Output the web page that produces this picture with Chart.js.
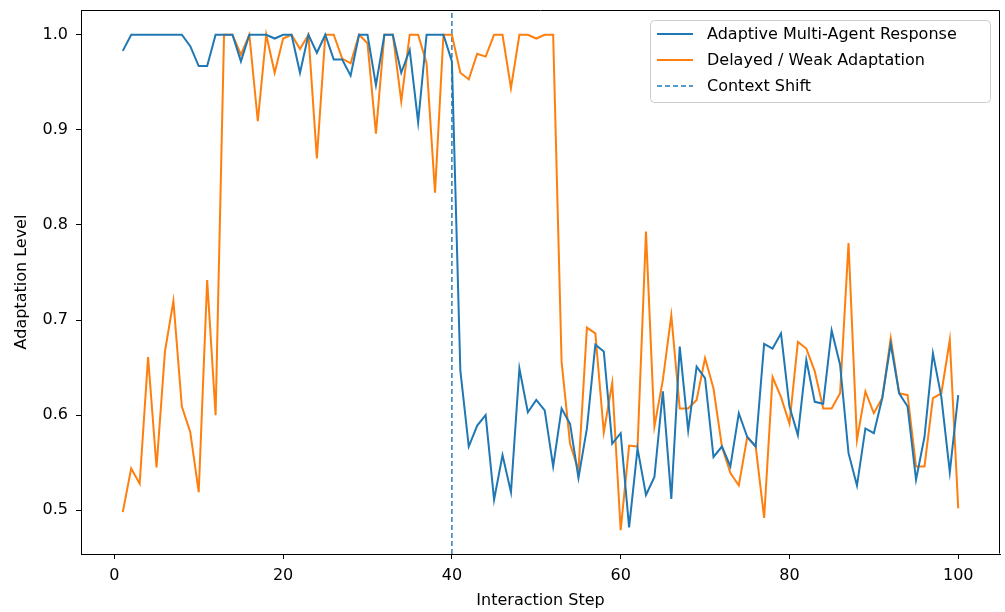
<!DOCTYPE html>
<html>
<head>
<meta charset="utf-8">
<script src="https://cdn.jsdelivr.net/npm/chart.js@4.4.1/dist/chart.umd.min.js"></script>
<style>
	html, body { margin: 0; padding: 0; background: #fff; }
	#wrap { width: 1005px; height: 612px; }
</style>
</head>
<body>
<div id="wrap"><canvas id="adaptChart" width="1005" height="612"></canvas></div>
<script>
// interaction steps (x values)
const steps = [
	1, 2, 3, 4, 5, 6, 7, 8, 9, 10,
	11, 12, 13, 14, 15, 16, 17, 18, 19, 20,
	21, 22, 23, 24, 25, 26, 27, 28, 29, 30,
	31, 32, 33, 34, 35, 36, 37, 38, 39, 40,
	41, 42, 43, 44, 45, 46, 47, 48, 49, 50,
	51, 52, 53, 54, 55, 56, 57, 58, 59, 60,
	61, 62, 63, 64, 65, 66, 67, 68, 69, 70,
	71, 72, 73, 74, 75, 76, 77, 78, 79, 80,
	81, 82, 83, 84, 85, 86, 87, 88, 89, 90,
	91, 92, 93, 94, 95, 96, 97, 98, 99, 100
];
const adaptiveResponse = [
	0.983, 1.0, 1.0, 1.0, 1.0, 1.0, 1.0, 1.0, 0.988, 0.967,
	0.967, 1.0, 1.0, 1.0, 0.972, 1.0, 1.0, 1.0, 0.996, 1.0,
	1.0, 0.960, 1.0, 0.981, 1.0, 0.974, 0.974, 0.957, 1.0, 1.0,
	0.947, 1.0, 1.0, 0.960, 0.984, 0.908, 1.0, 1.0, 1.0, 0.972,
	0.647, 0.567, 0.589, 0.600, 0.511, 0.558, 0.519, 0.649, 0.603, 0.616,
	0.605, 0.546, 0.607, 0.591, 0.534, 0.586, 0.674, 0.667, 0.570, 0.581,
	0.482, 0.565, 0.516, 0.535, 0.625, 0.512, 0.672, 0.584, 0.651, 0.639,
	0.556, 0.567, 0.546, 0.602, 0.577, 0.567, 0.675, 0.670, 0.686, 0.609,
	0.579, 0.658, 0.614, 0.612, 0.689, 0.653, 0.560, 0.526, 0.586, 0.581,
	0.618, 0.675, 0.623, 0.609, 0.532, 0.577, 0.665, 0.619, 0.540, 0.621
];
const weakAdaptation = [
	0.498, 0.544, 0.528, 0.661, 0.545, 0.667, 0.720, 0.609, 0.582, 0.519,
	0.742, 0.600, 1.0, 1.0, 0.979, 1.0, 0.909, 1.0, 0.960, 0.996,
	1.0, 0.985, 1.0, 0.870, 1.0, 1.0, 0.975, 0.970, 1.0, 0.991,
	0.896, 1.0, 1.0, 0.930, 1.0, 1.0, 0.970, 0.834, 1.0, 1.0,
	0.960, 0.953, 0.980, 0.977, 1.0, 1.0, 0.944, 1.0, 1.0, 0.996,
	1.0, 1.0, 0.656, 0.570, 0.542, 0.692, 0.686, 0.582, 0.634, 0.479,
	0.568, 0.567, 0.793, 0.588, 0.637, 0.705, 0.607, 0.607, 0.616, 0.660,
	0.628, 0.567, 0.539, 0.526, 0.577, 0.567, 0.492, 0.640, 0.619, 0.591,
	0.677, 0.670, 0.646, 0.607, 0.607, 0.623, 0.781, 0.574, 0.625, 0.602,
	0.618, 0.681, 0.623, 0.621, 0.546, 0.546, 0.618, 0.623, 0.679, 0.502
];
const contextShiftStep = 40;
const xTicks = [0, 20, 40, 60, 80, 100];
const yTicks = [0.5, 0.6, 0.7, 0.8, 0.9, 1.0];
const seriesLabels = ['Adaptive Multi-Agent Response', 'Delayed / Weak Adaptation', 'Context Shift'];

const FONT = 'DejaVu Sans';
const X_MIN = -3.95, X_MAX = 104.95;
const Y_MIN = 0.454, Y_MAX = 1.026;

function toPoints(xs, ys) {
	return xs.map(function(x, i) { return {x: x, y: ys[i]}; });
}

// black box round the plot area, like matplotlib spines
const framePlugin = {
	id: 'frame',
	afterDatasetsDraw(chart) {
		const a = chart.chartArea;
		const ctx = chart.ctx;
		const l = Math.round(a.left) + 0.5, r = Math.round(a.right) - 0.5;
		const t = Math.round(a.top) + 0.5, b = Math.round(a.bottom) - 0.5;
		ctx.save();
		ctx.strokeStyle = '#000';
		ctx.lineWidth = 1;
		ctx.beginPath();
		ctx.moveTo(l, t);
		ctx.lineTo(r, t);
		ctx.lineTo(r, b);
		ctx.moveTo(l, t);
		ctx.lineTo(l, b);
		ctx.stroke();
		ctx.restore();
	}
};

// legend drawn inside the plot, upper right
const innerLegend = {
	id: 'innerLegend',
	afterDraw(chart) {
		const a = chart.chartArea;
		const ctx = chart.ctx;
		const sets = chart.data.datasets;
		const boxW = 340, boxH = 82;
		const bx = a.right - 10 - boxW, by = a.top + 10;
		ctx.save();
		ctx.beginPath();
		ctx.roundRect(bx + 0.5, by + 0.5, boxW, boxH, 4);
		ctx.fillStyle = 'rgba(255,255,255,0.8)';
		ctx.fill();
		ctx.strokeStyle = '#cccccc';
		ctx.lineWidth = 1;
		ctx.stroke();
		ctx.font = '16px "' + FONT + '"';
		ctx.textBaseline = 'middle';
		ctx.fillStyle = '#000';
		sets.forEach(function(ds, i) {
			const y = by + 14 + i * 26;
			ctx.beginPath();
			ctx.strokeStyle = ds.borderColor;
			ctx.lineWidth = ds.borderWidth;
			ctx.setLineDash(ds.borderDash || []);
			ctx.moveTo(bx + 7, y);
			ctx.lineTo(bx + 43, y);
			ctx.stroke();
			ctx.setLineDash([]);
			ctx.fillText(ds.label, bx + 57, y + 1);
		});
		ctx.restore();
	}
};

const ctx = document.getElementById('adaptChart').getContext('2d');
new Chart(ctx, {
	type: 'line',
	data: {
		datasets: [{
			label: seriesLabels[0],
			data: toPoints(steps, adaptiveResponse),
			borderColor: '#1f77b4',
			borderWidth: 2,
			pointRadius: 0,
			tension: 0
		}, {
			label: seriesLabels[1],
			data: toPoints(steps, weakAdaptation),
			borderColor: '#ff7f0e',
			borderWidth: 2,
			pointRadius: 0,
			tension: 0
		}, {
			label: seriesLabels[2],
			data: [{x: contextShiftStep, y: Y_MIN}, {x: contextShiftStep, y: Y_MAX}],
			borderColor: '#1f77b4',
			borderWidth: 1.4,
			borderDash: [5, 3],
			pointRadius: 0
		}]
	},
	options: {
		responsive: false,
		animation: false,
		events: [],
		layout: { padding: { top: 10, right: 5, left: 0, bottom: 0 } },
		plugins: {
			legend: { display: false },
			tooltip: { enabled: false }
		},
		scales: {
			x: {
				type: 'linear',
				min: X_MIN,
				max: X_MAX,
				afterBuildTicks: function(scale) {
					scale.ticks = xTicks.map(function(v) { return {value: v}; });
				},
				afterFit: function(scale) {
					scale.height = 58;
					scale.paddingLeft = 0;
					scale.paddingRight = 0;
				},
				grid: { drawOnChartArea: false, drawTicks: true, tickLength: 5, color: '#000' },
				border: { display: true, color: '#000' },
				ticks: {
					color: '#000',
					font: { family: FONT, size: 16 },
					padding: 7,
					maxRotation: 0,
					callback: function(v) { return v; }
				},
				title: {
					display: true,
					text: 'Interaction Step',
					color: '#000',
					font: { family: FONT, size: 16 },
					padding: { top: 0, bottom: 2 }
				}
			},
			y: {
				min: Y_MIN,
				max: Y_MAX,
				afterBuildTicks: function(scale) {
					scale.ticks = yTicks.map(function(v) { return {value: v}; });
				},
				afterFit: function(scale) {
					scale.width = 81;
					scale.paddingTop = 0;
					scale.paddingBottom = 0;
				},
				grid: { drawOnChartArea: false, drawTicks: true, tickLength: 5, color: '#000' },
				border: { display: true, color: '#000' },
				ticks: {
					color: '#000',
					font: { family: FONT, size: 16 },
					padding: 8,
					callback: function(v) { return v.toFixed(1); }
				},
				title: {
					display: true,
					text: 'Adaptation Level',
					color: '#000',
					font: { family: FONT, size: 16 },
					padding: { top: 12, bottom: 0 }
				}
			}
		}
	},
	plugins: [framePlugin, innerLegend]
});
</script>
</body>
</html>
